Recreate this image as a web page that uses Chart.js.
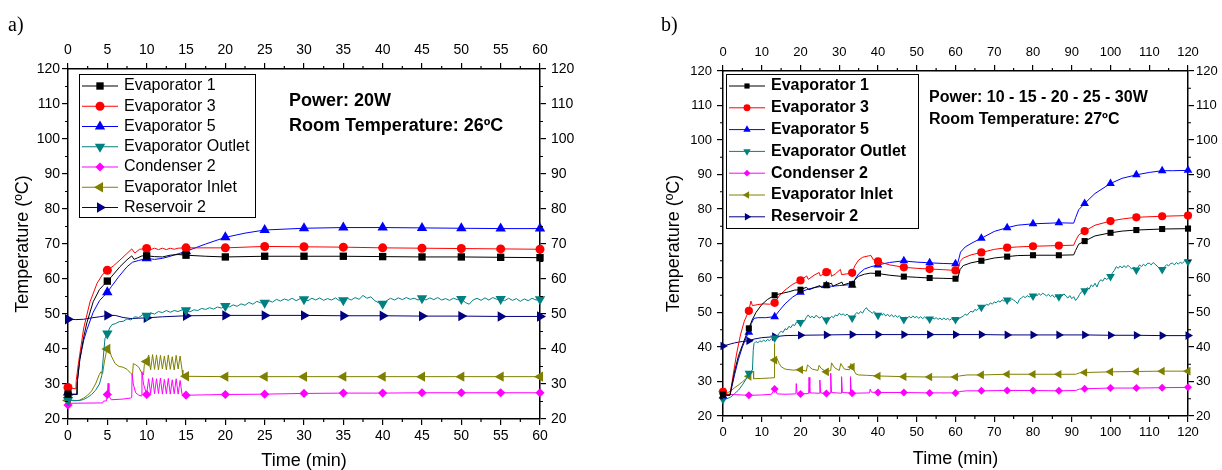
<!DOCTYPE html>
<html>
<head>
<meta charset="utf-8">
<script src="https://cdn.jsdelivr.net/npm/chart.js@4.4.1/dist/chart.umd.min.js"></script>
<style>
  body { margin: 0; background: #fff; width: 1222px; height: 470px; position: relative; overflow: hidden;
         font-family: "Liberation Sans", Arial, sans-serif; }
  canvas { position: absolute; top: 0; }
  #chartA { left: 0; }
  #chartB { left: 611px; }
  .panel { position: absolute; font-family: "Liberation Serif", "Times New Roman", serif; font-size: 20px; line-height: 1; }
  .note { position: absolute; font-weight: bold; white-space: nowrap; line-height: 1; color: #000; }
</style>
</head>
<body>
<canvas id="chartA" width="611" height="470"></canvas>
<canvas id="chartB" width="611" height="470"></canvas>
<div class="panel" style="left:8px; top:14px;">a)</div>
<div class="panel" style="left:661px; top:14px;">b)</div>
<div class="note" style="left:289px; top:91px; font-size:18px;">Power: 20W</div>
<div class="note" style="left:289px; top:116px; font-size:18px;">Room Temperature: 26ºC</div>
<div class="note" style="left:929px; top:89px; font-size:16px;">Power: 10 - 15 - 20 - 25 - 30W</div>
<div class="note" style="left:929px; top:111px; font-size:16px;">Room Temperature: 27ºC</div>
<script>
// ---------- a) Power 20W, room 26ºC : [time (min), temperature (ºC)] ----------
const marksA = [0, 5, 10, 15, 20, 25, 30, 35, 40, 45, 50, 55, 60];

const evap1A = [[0,27.1],[1.1,27.1],[1.15,30],[1.5,37],[2,43.5],[2.4,47.5],[3.2,53.5],[4,57],[4.5,58.2],[5,59.4],
  [5.5,60.6],[6.6,63.5],[7.5,65.5],[8.1,66.6],[8.4,65.6],[8.8,66],[9.4,66.6],[10,66.6],[11,66.4],[12,66.3],[13,66.8],
  [14,67],[15,66.8],[17.5,66.5],[20,66.3],[25,66.5],[30,66.5],[35,66.5],[40,66.4],[45,66.3],[50,66.3],[55,66.2],[60,66.1]];

const evap3A = [[0,29.0],[1.0,28.6],[1.05,31],[1.3,35.5],[2,46],[2.8,53.5],[3.7,58.8],[4.4,61.3],[5,62.5],[5.8,63.8],
  [6.6,65.4],[7.5,67.3],[8.1,68.6],[8.5,67.4],[9.1,68.5],[10,68.7],[10.5,68.4],[11,68.8],[11.5,68.4],[12,68.8],[12.5,68.4],
  [13,68.8],[13.5,68.5],[14,68.8],[15,68.9],[20,68.9],[25,69.3],[30,69.2],[35,69.1],[40,68.9],[45,68.8],[50,68.7],
  [55,68.6],[60,68.5]];

const evap5A = [[0,27.6],[0.3,27],[1.15,27],[1.2,31],[1.5,37],[2,42.5],[2.4,45.5],[3.2,50.5],[4,53.8],[4.5,55],[5,56.2],
  [5.5,57.8],[6.5,60.8],[7.5,63.5],[8.2,64.8],[9,65.3],[10,65.9],[11,65.6],[12,65.9],[13,66.5],[14,67.2],[15,67.9],
  [17.5,70],[20,71.9],[22.5,73.1],[25,74],[30,74.5],[35,74.7],[40,74.7],[45,74.6],[50,74.5],[55,74.4],[60,74.4]];

const evapOutA = [[0,25.4],[1,25.3],[1.5,25.3],[2,25.6],[2.5,26.2],[3,27.0],[3.5,28.2],[4,30],[4.3,32.5],[4.5,38],
  [4.7,43],[5,44.4],[5.3,46],[5.6,47],[6,47.2],[6.5,47.8],[7,47.9],[7.5,48.6],[8,48.3],[8.5,49.2],[9,49],[9.5,49.8],
  [10,49.5],[10.5,50.3],[11,50],[11.5,50.7],[12,50.4],[12.5,51],[13,50.5],[13.5,51],[14,50.7],[14.5,51.2],[15,51.1],
  [15.5,50.6],[16,51.2],[16.5,51],[17,51.6],[17.5,51.3],[18,51.8],[18.5,51.4],[19,52],[19.5,51.7],[20,52.3],[20.5,52],
  [21,52.6],[21.5,52.2],[22,52.9],[22.5,52.5],[23,53.3],[23.5,52.8],[24,53.6],[24.5,53.2],[25,53.2],[25.5,53.8],
  [26,53.4],[26.5,54.2],[27,53.7],[27.5,54.3],[28,53.9],[28.5,54.5],[29,53.8],[29.5,54.4],[30,54.2],[30.5,53.8],
  [31,54.5],[31.5,54],[32,54.6],[32.5,53.9],[33,54.4],[33.5,54],[34,54.6],[34.5,53.8],[35,53.9],[35.5,54.5],[36,54],
  [36.5,54.7],[37,54.2],[37.5,55.3],[38,54.5],[38.5,54.9],[39,53.8],[39.5,53.2],[40,52.9],[40.5,53.8],[41,54.5],
  [41.5,54],[42,54.6],[42.5,54.1],[43,54.7],[43.5,54.2],[44,54.5],[44.5,54],[45,54.5],[45.5,54],[46,54.6],[46.5,54.1],
  [47,54.7],[47.5,54],[48,54.4],[48.5,53.9],[49,54.5],[49.5,54.1],[50,54.3],[50.5,53.3],[51,52.8],[51.5,54],[52,54.5],
  [52.5,53.9],[53,54.6],[53.5,54],[54,54.7],[54.5,54.2],[55,54.3],[55.5,53.8],[56,54.5],[56.5,53.9],[57,54.4],
  [57.5,53.6],[58,54.3],[58.5,53.8],[59,54.5],[59.5,54],[60,54.2]];

const cond2A = [[0,24.0],[0.3,24.5],[4.4,24.6],[4.5,25.1],[4.9,25.2],[5,27],[5.1,30.2],[5.2,26.5],[5.5,25.5],[7,25.7],
  [8,26],[8.1,26.2],[8.15,32.8],[8.3,30],[8.6,27.5],[9,26.8],[9.3,26.6],[9.4,33.5],[9.6,30],[10,27],[10.25,31.5],
  [10.5,27.3],[10.75,31.8],[11,27.2],[11.25,31.5],[11.5,27.3],[11.75,31.7],[12,27.1],[12.25,31.3],[12.5,27.2],
  [12.75,31.6],[13,27.1],[13.25,31.2],[13.5,27.2],[13.75,31.5],[14,27.1],[14.25,31],[14.5,27],[15,26.8],[20,27],
  [25,27.1],[30,27.3],[35,27.4],[40,27.4],[45,27.5],[50,27.5],[55,27.5],[60,27.5]];

const evapInA = [[0,25.3],[1,25.2],[1.5,25.4],[2,26],[2.5,26.8],[3,28],[3.5,30],[4,32.8],[4.2,33.5],[4.4,33],[4.6,36],
  [4.9,39.5],[5,40],[5.2,40.3],[5.5,38],[6,35.8],[6.5,35],[7,34.8],[7.5,34.2],[8,33],[8.2,32.6],[8.3,35.8],[8.6,35.5],
  [9,34.8],[9.3,33.5],[9.6,32.6],[9.7,35.5],[10,36.4],[10.25,38.3],[10.5,34],[10.75,38.4],[11,34.2],[11.25,38.3],
  [11.5,34],[11.75,38.2],[12,34.3],[12.25,38],[12.5,34],[12.75,38.3],[13,34.2],[13.25,37.8],[13.5,34],[13.75,38.2],
  [14,34.3],[14.25,38],[14.5,34],[14.6,32.2],[15,32.2],[20,32.1],[25,32.1],[30,32.1],[35,32.1],[40,32.1],[45,32.1],
  [50,32.1],[55,32.1],[60,32.1]];

const reservoirA = [[0,48.5],[1,48.4],[2,48.5],[3,48.9],[4,49.2],[5,49.6],[6,49.6],[7,49.0],[8,48.7],[9,48.8],
  [10,48.9],[12,49.2],[15,49.5],[20,49.6],[25,49.6],[30,49.6],[35,49.5],[40,49.5],[45,49.4],[50,49.4],[55,49.3],[60,49.3]];

// ---------- b) Power 10-15-20-25-30W, room 27ºC ----------
const marksB = [0, 6.67, 13.33, 20, 26.67, 33.33, 40, 46.67, 53.33, 60, 66.67, 73.33, 80, 86.67, 93.33, 100, 106.67, 113.33, 120];

const evap1B = [[0,26.2],[1.8,26],[2.2,28.5],[3,33],[4,37.5],[5,40.5],[6,43.5],[6.67,45.4],[7.5,47.8],[8.5,50],
  [10,52.3],[11.5,53.8],[13.33,55],[15,55.5],[17,56],[18.5,56.5],[20,56.6],[21.5,57.3],[22.2,56.6],[23.5,57.2],
  [25,57.8],[25.4,57.2],[26.67,57.9],[28,58.5],[28.3,57.6],[29.5,58.2],[30.7,58.8],[31,58],[32.5,58.5],[33.33,58.2],
  [34,59.5],[35,60.5],[36.5,61.1],[38,61.4],[40,61.3],[43,60.8],[46.67,60.4],[50,60.2],[53.33,60],[57,59.9],[60,59.8],
  [60.6,60],[61.2,62.5],[62,63.6],[64,64.4],[66.67,65],[70,65.8],[73.33,66.2],[76,66.5],[80,66.6],[86.67,66.6],
  [90.5,66.7],[91,68],[91.8,69.8],[93.33,70.7],[96,72.2],[100,73.1],[103,73.6],[106.67,73.9],[113.33,74.2],[120,74.3]];

const evap3B = [[0,27],[0.5,26.2],[1.8,26.2],[2.5,31],[3.5,38],[4.5,43.5],[5.5,47.5],[6.67,50.5],[7.2,53.3],[7.6,52],
  [9,52.3],[10.5,52.5],[12,52.4],[13.33,52.8],[14.5,54.8],[16,56.5],[18,58.2],[20,59.3],[21.6,60.6],[22,59.6],
  [23.5,60.8],[24.8,61.6],[25.1,60.6],[26.67,61.7],[27.7,62.4],[28,60.5],[29,61.2],[30.3,62.5],[30.6,61],[32,61.2],
  [33.33,61.5],[34,63.5],[35,65.2],[36,66],[37.5,66.4],[38.2,66.5],[38.8,65.3],[40,64.8],[43,63.8],[46.67,63.1],
  [50,62.8],[53.33,62.6],[57,62.4],[60,62.2],[60.6,62.4],[61.2,64.8],[62,65.8],[64,66.7],[66.67,67.4],[70,68.3],
  [73.33,68.8],[76,69],[80,69.2],[86.67,69.4],[90.5,69.5],[91,70.8],[91.8,72.5],[93.33,73.6],[96,75.3],[100,76.5],
  [103,77.1],[106.67,77.6],[113.33,77.9],[120,78.1]];

const evap5B = [[0,25.8],[1.8,26],[2.3,28.5],[3,32],[4,36.5],[5,40],[6,42.8],[6.67,44.3],[7.3,46.8],[8,48.3],[9,48.5],
  [11,48.5],[13.33,48.8],[14.5,50.5],[16,52.5],[18,54.5],[20,55.9],[22,56.8],[24,57.3],[26.67,57.8],[28,57.6],[30,57.8],
  [32,58],[33.33,57.9],[34,59.5],[35,61.2],[36.5,62.6],[38,63.2],[40,63.8],[43,64.5],[46.67,65],[48,64.8],[50,64.6],
  [53.33,64.4],[57,64.2],[60,64.1],[60.6,64.4],[61.3,67.5],[62.5,69],[64.5,70.3],[66.67,71.5],[70,73.5],[73.33,74.6],
  [76,75.3],[80,75.7],[86.67,76],[90.5,75.9],[91,77.5],[91.8,79.8],[93.33,81.6],[96,84.5],[100,87.4],[103,88.9],
  [106.67,89.9],[110,90.6],[113.33,91.1],[116,91.1],[120,91.2]];

const evapOutB = [[0,24.8],[1,25],[2,25.5],[3,26.5],[4,27.5],[5,29],[6,30.8],[6.67,32.4],[7.2,33],[7.6,33.3],[7.8,39],
  [8,41],[8.5,41.6],[9,41.2],[9.5,41.8],[10,41.5],[10.5,42],[11,41.6],[11.5,42.2],[12,41.8],[12.5,42.4],[13.33,42.6],
  [14,43.2],[14.5,44],[15,44.6],[15.5,44.2],[16,45.3],[16.5,45],[17,46],[17.5,45.6],[18,46.5],[18.5,46.2],[19,47.3],
  [19.5,46.8],[20,47.1],[20.5,47.8],[21,47.5],[21.5,48.6],[22,49.3],[22.5,48.5],[23,48.9],[23.5,48.4],[24,49.2],
  [24.5,48.7],[25,48.4],[25.5,48.9],[26,48.2],[26.67,47.8],[27,48.6],[27.5,48.3],[28,48.9],[28.5,48.5],[29,49.3],
  [29.5,49],[30,49.8],[30.5,49.3],[31,49.6],[31.5,49.1],[32,49.5],[32.5,49],[33.33,48.4],[34,49.3],[34.5,50],[35,49.6],
  [35.5,50.3],[36,49.8],[36.5,50.8],[37,51.4],[37.5,50.6],[38,50.3],[38.5,49.8],[39,50.3],[39.5,49.6],[40,49.2],
  [40.5,49.8],[41,49.2],[41.5,49.7],[42,49],[42.5,49.5],[43,48.8],[43.5,49.4],[44,48.7],[44.5,49.2],[45,48.6],
  [45.5,49.1],[46,48.5],[46.67,48],[47,48.7],[47.5,48.3],[48,48.9],[48.5,48.4],[49,49],[49.5,48.5],[50,48.9],
  [50.5,48.3],[51,48.8],[51.5,48.2],[52,48.7],[52.5,48.2],[53.33,48.1],[54,48.6],[54.5,48.1],[55,48.5],[55.5,48],
  [56,48.4],[56.5,47.9],[57,48.4],[57.5,47.9],[58,48.3],[58.5,47.8],[59,48.2],[59.5,47.7],[60,48],[60.5,47.8],
  [61,48.3],[62,49],[62.5,49.5],[63,49.2],[63.5,49.9],[64,50.4],[64.5,50.1],[65,50.9],[65.5,50.6],[66,51.2],
  [66.67,51.5],[67.5,51.8],[68,52.4],[68.5,52.1],[69,52.8],[69.5,52.4],[70,53.1],[70.5,52.8],[71,53.4],[71.5,53],
  [72,53.7],[72.5,53.3],[73.33,53.6],[74,53.3],[74.5,54],[75,53.6],[75.5,53.2],[76,52.6],[76.5,53.8],[77,54.2],
  [77.5,54.7],[78,54.3],[78.5,54.9],[79,54.5],[80,54.8],[80.5,55.3],[81,54.8],[81.5,55.5],[82,55],[82.5,55.6],
  [83,55.2],[83.5,54.8],[84,55.3],[84.5,54.6],[85,55.1],[85.5,54.4],[86,54.9],[86.67,54.6],[87,55.2],[87.5,54.8],
  [88,55.4],[88.5,54.7],[89,54.2],[89.5,54.9],[90,54],[90.5,54.6],[91,53.5],[91.5,54.2],[92,55.2],[92.5,56],
  [93.33,56.3],[94,57.2],[94.5,56.8],[95,58],[95.5,57.5],[96,58.5],[96.5,57.4],[97,58.8],[97.5,59.5],[98,59.1],
  [98.5,60],[99,59.6],[100,60.4],[100.5,61.5],[101,62.2],[101.5,63.3],[102,62.8],[102.5,63.5],[103,62.9],[103.5,63.6],
  [104,63],[104.5,63.7],[105,63.1],[105.5,62.6],[106,63.2],[106.67,62.3],[107,63],[107.5,63.8],[108,63.3],[108.5,64],
  [109,63.5],[109.5,64.2],[110,64.3],[110.5,63.8],[111,64.5],[111.5,64],[112,63.5],[112.5,62.9],[113.33,62.5],
  [114,63.3],[114.5,63.9],[115,63.5],[115.5,64.2],[116,64.3],[116.5,63.8],[117,64.5],[117.5,64],[118,64.6],
  [118.5,64.2],[119,64.8],[119.5,65.5],[120,64.7]];

const cond2B = [[0,26.4],[1,26.3],[3,26.2],[6.67,26],[10,26.1],[12.5,26.3],[13.33,27.8],[14,26.4],[16,26.3],
  [18.8,26.4],[18.9,29.4],[19.1,26.6],[20,26.4],[22.1,26.5],[22.2,31.2],[22.4,26.7],[24.9,26.6],[25,30.4],[25.2,26.7],
  [26.67,26.5],[27.7,26.6],[27.8,32.4],[28,26.8],[30.5,26.6],[30.6,31.4],[30.8,26.8],[32.8,26.7],[32.9,31.4],
  [33.1,26.8],[33.33,26.6],[37.8,26.7],[38,27.8],[38.3,26.9],[40,26.8],[46.67,26.8],[53.33,26.7],[60,26.7],[61,27.1],
  [63,27.3],[66.67,27.3],[73.33,27.4],[80,27.4],[86.67,27.3],[91,27.4],[92,27.8],[93.33,27.9],[100,28.1],
  [106.67,28.1],[113.33,28.2],[120,28.3]];

const evapInB = [[0,27],[1,26.6],[2,27.3],[3,28.2],[4,29],[5,29.9],[6.67,31.5],[7.3,32.4],[7.8,33],[7.9,30.8],
  [10,30.9],[12,31],[13.2,31.1],[13.28,41],[13.33,36.2],[13.8,37],[14.5,35.2],[15,34.3],[16,33.6],[18,33.3],[20,33.4],
  [21.5,33],[21.8,34.8],[22.3,34.3],[23,33.6],[24.5,33.2],[24.8,34.7],[25.3,33.8],[26.67,32.8],[27.8,33.2],[28,35.4],
  [28.8,34],[30,33.2],[30.4,35.2],[31.3,33.6],[32.7,33.4],[33,35.2],[33.33,34.2],[34.3,32.2],[35,31.9],[37,31.8],
  [40,31.6],[46.67,31.4],[53.33,31.3],[60,31.3],[61,31.6],[63,31.9],[66.67,31.9],[73.33,32.1],[80,32.1],[86.67,32.1],
  [91,32.1],[92,32.5],[93.33,32.6],[100,32.8],[106.67,32.9],[113.33,33],[120,33]];

const reservoirB = [[0,40.3],[1,40.6],[2,40.9],[3,41.2],[4,41.4],[5,41.6],[6.67,41.8],[8,42.3],[10,42.7],[13.33,43],
  [16,43.3],[20,43.4],[26.67,43.5],[33.33,43.6],[40,43.6],[46.67,43.6],[53.33,43.6],[60,43.6],[66.67,43.6],[73.33,43.5],
  [80,43.5],[86.67,43.5],[93.33,43.5],[100,43.4],[106.67,43.4],[113.33,43.3],[120,43.3]];

const labels = ['Evaporator 1', 'Evaporator 3', 'Evaporator 5', 'Evaporator Outlet', 'Condenser 2', 'Evaporator Inlet', 'Reservoir 2'];
const colors = ['#000000', '#ff0000', '#0000ff', '#008080', '#ff00ff', '#808000', '#000080'];
const shapes = ['rect', 'circle', 'triangle', 'triangle', 'rectRot', 'triangle', 'triangle'];
const rotations = [0, 0, 0, 180, 0, -90, 90];

Chart.defaults.font.family = '"Liberation Sans", Arial, sans-serif';
Chart.defaults.color = '#000';

// minor ticks + legend box with line-and-marker samples
const decor = {
  id: 'decor',
  afterDraw(chart, args, o) {
    const ctx = chart.ctx, a = chart.chartArea;
    ctx.save();
    ctx.strokeStyle = '#000';
    ctx.lineWidth = 1.2;
    ctx.beginPath();
    for (const s of Object.values(chart.scales)) {
      const step = s.isHorizontal() ? o.minorX : o.minorY;
      const major = s.options.ticks.stepSize;
      for (let v = s.min + step; v < s.max; v += step) {
        if (Math.abs(v / major - Math.round(v / major)) < 1e-6) continue;
        const p = s.getPixelForValue(v);
        if (s.position === 'bottom') { ctx.moveTo(p, a.bottom); ctx.lineTo(p, a.bottom + 3); }
        if (s.position === 'top') { ctx.moveTo(p, a.top); ctx.lineTo(p, a.top - 3); }
        if (s.position === 'left') { ctx.moveTo(a.left, p); ctx.lineTo(a.left - 3, p); }
        if (s.position === 'right') { ctx.moveTo(a.right, p); ctx.lineTo(a.right + 3, p); }
      }
    }
    ctx.stroke();

    const L = o.legend;
    ctx.fillStyle = '#fff';
    ctx.fillRect(L.x, L.y, L.w, L.h);
    ctx.lineWidth = 1;
    ctx.strokeRect(L.x + 0.5, L.y + 0.5, L.w, L.h);
    chart.data.datasets.forEach((ds, i) => {
      const y = L.row0 + i * L.dy;
      ctx.strokeStyle = ds.borderColor;
      ctx.lineWidth = 1;
      ctx.beginPath();
      ctx.moveTo(L.x1, y);
      ctx.lineTo(L.x2, y);
      ctx.stroke();
      ctx.fillStyle = ds.borderColor;
      Chart.helpers.drawPoint(ctx, { pointStyle: ds.pointStyle, rotation: ds.pointRotation,
        radius: o.sizes[ds.pointStyle] * L.scale, borderWidth: 0 }, (L.x1 + L.x2) / 2, y);
      ctx.fillStyle = '#000';
      ctx.font = L.font;
      ctx.textBaseline = 'middle';
      ctx.textAlign = 'left';
      ctx.fillText(ds.label, L.tx, y);
    });
    ctx.restore();
  }
};

function buildChart(id, c) {
  const datasets = c.series.map((data, i) => ({
    label: labels[i],
    data: data,
    borderColor: colors[i],
    backgroundColor: colors[i],
    borderWidth: 1,
    pointStyle: shapes[i],
    pointRotation: rotations[i],
    pointBackgroundColor: colors[i],
    pointBorderWidth: 0,
    pointRadius: ctx => (ctx.parsed && c.marks.some(m => Math.abs(m - ctx.parsed.x) < 0.02)) ? c.sizes[shapes[i]] : 0,
    tension: 0,
    clip: false
  }));

  const axis = (pos, min, max, step, pad, fit, title) => ({
    type: 'linear', position: pos, min: min, max: max,
    ticks: { stepSize: step, padding: pad, font: { size: c.tickFont }, color: '#000' },
    grid: { drawOnChartArea: false, color: '#000', lineWidth: 1.2, tickLength: 6 },
    border: { display: true, color: '#000', width: 1.5 },
    title: title || { display: false },
    afterFit: s => { if (s.isHorizontal()) s.height = fit; else s.width = fit; }
  });

  return new Chart(document.getElementById(id), {
    type: 'line',
    data: { datasets: datasets },
    options: {
      responsive: false,
      animation: false,
      devicePixelRatio: 1,
      events: [],
      layout: { padding: 0 },
      scales: {
        x: axis('bottom', 0, c.xMax, c.xStep, c.pad.x, c.box.bottom,
          { display: true, text: 'Time (min)', font: { size: 18 }, padding: c.titlePad.x }),
        x2: axis('top', 0, c.xMax, c.xStep, c.pad.x2, c.box.top),
        y: axis('left', 20, 120, 10, c.pad.y, c.box.left,
          { display: true, text: 'Temperature (ºC)', font: { size: 18 }, padding: c.titlePad.y }),
        y2: axis('right', 20, 120, 10, c.pad.y2, c.box.right)
      },
      plugins: {
        legend: { display: false },
        tooltip: { enabled: false },
        decor: { minorX: c.xMinor, minorY: 5, sizes: c.sizes, legend: c.legend }
      }
    },
    plugins: [decor]
  });
}

buildChart('chartA', {
  series: [evap1A, evap3A, evap5A, evapOutA, cond2A, evapInA, reservoirA],
  marks: marksA,
  sizes: { rect: 5.2, circle: 4.5, triangle: 6, rectRot: 4.6 },
  xMax: 60, xStep: 5, xMinor: 2.5,
  box: { left: 68, right: 71, top: 69, bottom: 51 },
  tickFont: 14,
  pad: { x: 3, x2: 4, y: 2, y2: 5 },
  titlePad: { x: -2, y: 12 },
  legend: { x: 79, y: 74, w: 176, h: 143, row0: 86, dy: 20.25, x1: 82, x2: 118, tx: 124, scale: 1,
            font: '16px "Liberation Sans", Arial, sans-serif' }
});

buildChart('chartB', {
  series: [evap1B, evap3B, evap5B, evapOutB, cond2B, evapInB, reservoirB],
  marks: marksB,
  sizes: { rect: 4.3, circle: 4.1, triangle: 5, rectRot: 4 },
  xMax: 120, xStep: 10, xMinor: 5,
  box: { left: 112, right: 34, top: 71, bottom: 54 },
  tickFont: 13,
  pad: { x: 3, x2: 4.5, y: 5, y2: 2 },
  titlePad: { x: 0, y: 52 },
  legend: { x: 115, y: 74, w: 192, h: 154, row0: 86, dy: 21.8, x1: 118, x2: 154, tx: 160, scale: 0.85,
            font: 'bold 16px "Liberation Sans", Arial, sans-serif' }
});
</script>
</body>
</html>
